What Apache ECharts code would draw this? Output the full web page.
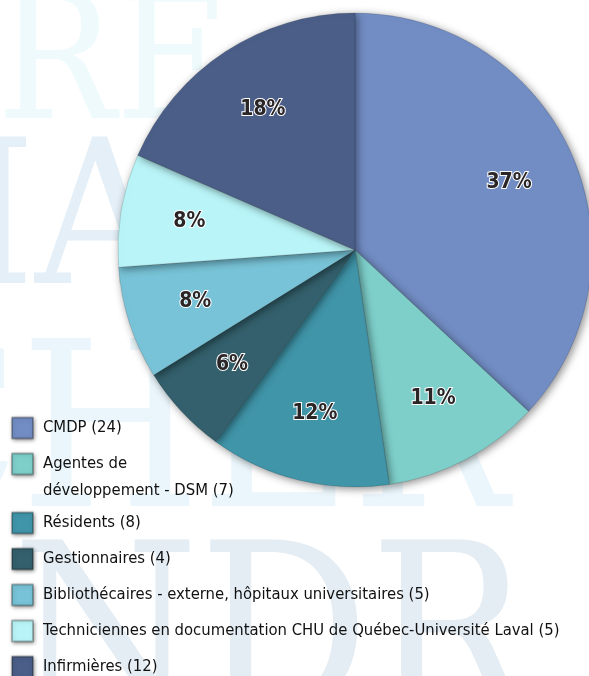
<!DOCTYPE html>
<html>
<head>
<meta charset="UTF-8">
<title>Répartition</title>
<script src="https://cdn.jsdelivr.net/npm/echarts@6/dist/echarts.min.js"></script>
<style>
  body { margin: 0; padding: 0; background: #fff; }
  #chart { width: 589px; height: 676px; }
</style>
</head>
<body>
<div id="chart"></div>
<script>
var categories = ['CMDP', 'Agentes de développement - DSM', 'Résidents', 'Gestionnaires',
  'Bibliothécaires - externe, hôpitaux universitaires',
  'Techniciennes en documentation CHU de Québec-Université Laval', 'Infirmières'];
var counts = [24, 7, 8, 4, 5, 5, 12];
var colors = ['#728dc4', '#7ecfca', '#4095a9', '#33606c', '#78c3d7', '#b9f5f8', '#4a5e88'];

var narrow = "'DejaVu Sans Condensed', 'Liberation Sans Narrow', sans-serif";

var pieData = categories.map(function (c, i) {
  return { name: c, value: counts[i], itemStyle: { color: colors[i] } };
});

// big faint letters in the background
function mark(txt, x, y, size, col, align) {
  return { type: 'text', z: -10, silent: true, x: x, y: y,
    style: { text: txt, fontFamily: "'DejaVu Serif Condensed', 'DejaVu Serif', serif", fontSize: size,
      fill: col, align: align || 'left', verticalAlign: 'middle' } };
}

var chart = echarts.init(document.getElementById('chart'));
chart.setOption({
  animation: false,
  backgroundColor: '#fff',
  graphic: [
    mark('RE', -3, 73, 175, '#effafd'),
    mark('MA', 165, 231, 200, '#e4eff7', 'right'),
    mark('CHER', -138, 446, 230, '#eaf6fb'),
    mark('NDR', 12, 651, 237, '#e4edf4')
  ],
  legend: {
    orient: 'vertical',
    left: 6,
    top: 411,
    height: 300,
    itemWidth: 21,
    itemHeight: 21,
    itemGap: 12,
    icon: 'rect',
    itemStyle: { shadowBlur: 4, shadowColor: 'rgba(0,0,0,0.45)', shadowOffsetX: 1, shadowOffsetY: 1 },
    textStyle: {
      fontFamily: narrow, fontSize: 16.5, color: '#111111', lineHeight: 24, padding: [0, 0, 0, 5],
      rich: {
        a: { fontFamily: narrow, fontSize: 16.5, color: '#111111', lineHeight: 24 },
        // second line of a wrapped entry: zero line height keeps the box on the first line
        b: { fontFamily: narrow, fontSize: 16.5, color: '#111111', lineHeight: 0, height: 29, verticalAlign: 'top' }
      }
    },
    data: categories,
    formatter: function (name) {
      var i = categories.indexOf(name);
      if (name.indexOf('Agentes de ') == 0) {
        return '{a|Agentes de}\n{b|' + name.slice(11) + ' (' + counts[i] + ')}';
      }
      return name + ' (' + counts[i] + ')';
    }
  },
  series: [
    {
      type: 'pie',
      center: [355, 250],
      radius: [0, 237],
      startAngle: 90,
      label: { show: false },
      labelLine: { show: false },
      itemStyle: { borderColor: 'rgba(0,0,0,0.25)', borderWidth: 0.5,
        shadowBlur: 8, shadowColor: 'rgba(0,0,0,0.45)', shadowOffsetX: 2, shadowOffsetY: 2 },
      emphasis: { disabled: true },
      data: pieData
    },
    {
      // transparent ring only used to place the percent labels further out
      type: 'pie',
      center: [355, 250],
      radius: [93, 237],
      startAngle: 90,
      silent: true,
      percentPrecision: 0,
      itemStyle: { color: 'rgba(0,0,0,0)' },
      label: {
        show: true, position: 'inside', formatter: '{d}%',
        fontFamily: narrow, fontWeight: 'bold', fontSize: 21,
        color: '#2a2526', textBorderColor: '#ffffff', textBorderWidth: 2
      },
      labelLine: { show: false },
      emphasis: { disabled: true },
      data: counts.map(function (v, i) { return { name: categories[i], value: v }; })
    }
  ]
});
</script>
</body>
</html>
